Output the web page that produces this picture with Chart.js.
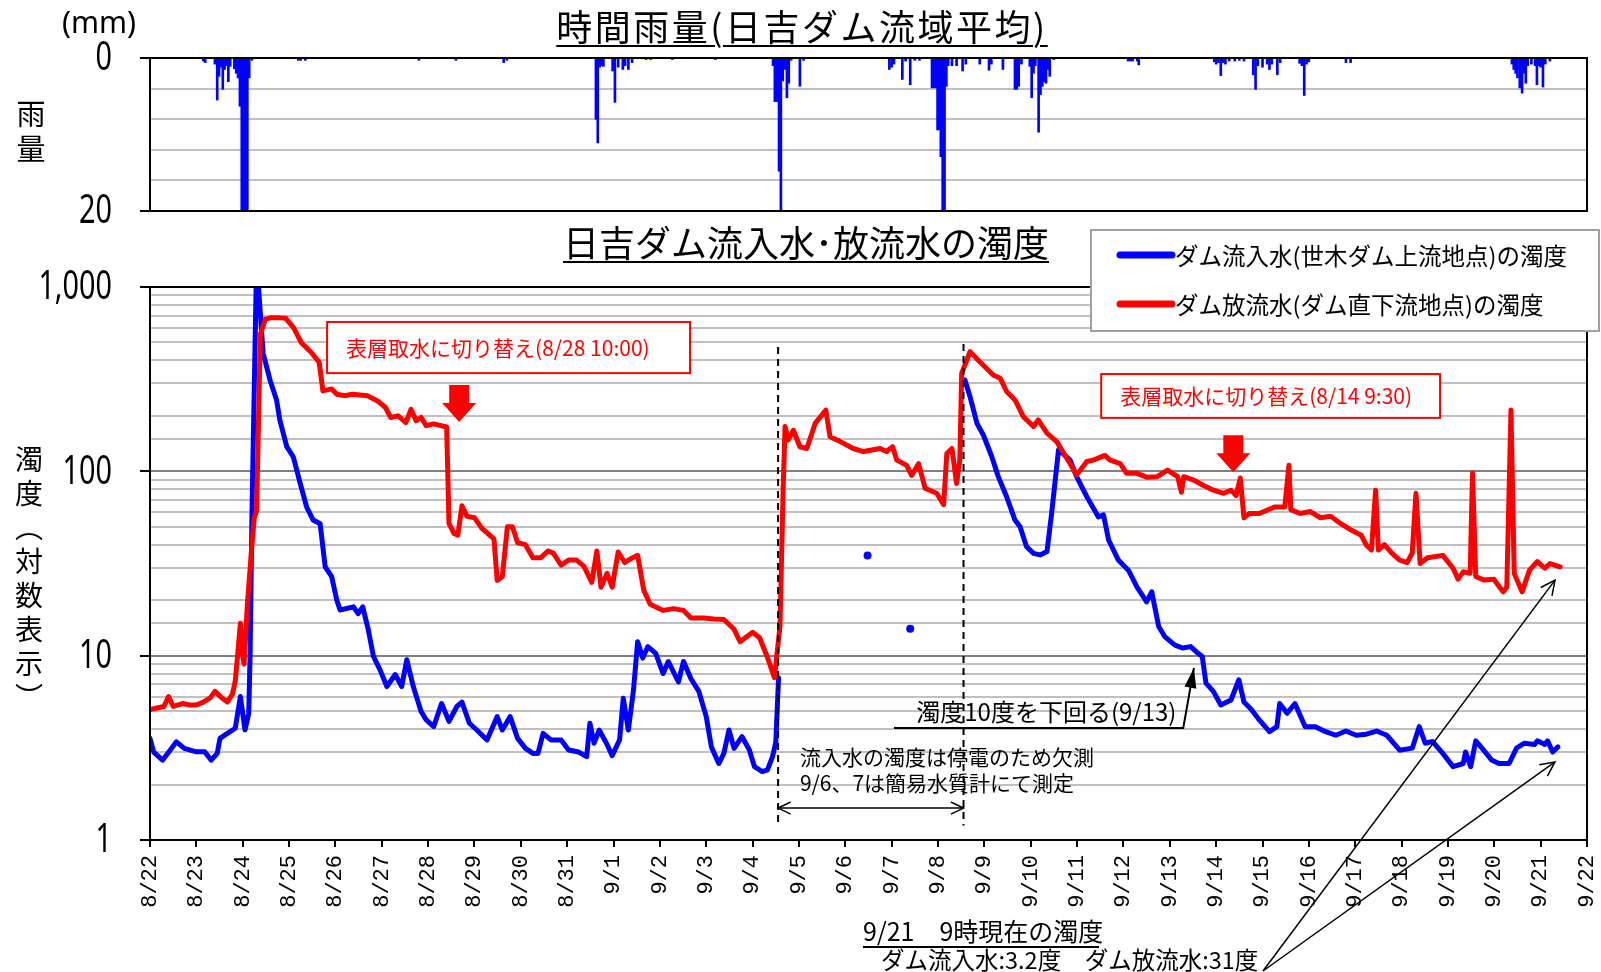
<!DOCTYPE html>
<html lang="ja">
<head>
<meta charset="utf-8">
<title>時間雨量・日吉ダム流入水･放流水の濁度</title>
<script src="https://cdn.jsdelivr.net/npm/chart.js@4.4.1/dist/chart.umd.min.js"></script>
<style>
  html, body { margin: 0; padding: 0; background: #fff; }
  body {
    width: 1601px; height: 972px; position: relative; overflow: hidden;
    font-family: "Noto Sans CJK JP", sans-serif; color: #000;
  }
  canvas { position: absolute; left: 0; }
  #rainCanvas { top: 0; }
  #turbCanvas { top: 220px; }
  .title {
    position: absolute; font-size: 36px; line-height: 1; white-space: nowrap;
    text-decoration: underline; text-decoration-thickness: 2px; text-underline-offset: 4px;
    transform: translateX(-50%);
  }
  .vlabel { position: absolute; writing-mode: vertical-rl; line-height: 1; white-space: nowrap; }
  #unit { position: absolute; left: 62px; top: 7px; font-size: 30px; line-height: 1; font-family: "Noto Sans", sans-serif; }
</style>
</head>
<body>
<canvas id="rainCanvas" width="1601" height="235"></canvas>
<canvas id="turbCanvas" width="1601" height="752"></canvas>
<div class="title" style="left:802px; top:7px; letter-spacing:2.5px;">時間雨量(日吉ダム流域平均)</div>
<div class="title" style="left:806px; top:223px;">日吉ダム流入水･放流水の濁度</div>
<div id="unit">(mm)</div>
<div class="vlabel" style="left:16px; top:99px; font-size:29px; letter-spacing:6px;">雨量</div>
<div class="vlabel" style="left:15px; top:445px; font-size:28px; letter-spacing:6px;">濁度（対数表示）</div>
<script>
// x軸: 8/22 0時からの経過日数
const dateLabels = [
  '8/22', '8/23', '8/24', '8/25', '8/26', '8/27', '8/28', '8/29', '8/30', '8/31',
  '9/1', '9/2', '9/3', '9/4', '9/5', '9/6', '9/7', '9/8', '9/9', '9/10',
  '9/11', '9/12', '9/13', '9/14', '9/15', '9/16', '9/17', '9/18', '9/19', '9/20',
  '9/21', '9/22'
];

// 時間雨量 (mm)
const rainDays = [
  1.15, 1.19, 1.40, 1.45, 1.49, 1.53, 1.57, 1.61, 1.65, 1.69, 1.73, 1.82, 1.86, 1.90, 1.94, 1.98, 2.02, 2.06, 2.10, 2.14, 2.20,
  3.20, 3.25, 3.35, 5.80, 6.60, 7.63, 7.70,
  9.62, 9.66, 9.70, 9.74, 9.78, 9.98, 10.03, 10.10, 10.20, 10.25, 10.32, 10.40, 10.70, 10.80, 11.27, 12.20,
  13.44, 13.48, 13.53, 13.57, 13.61, 13.65, 13.69, 13.74, 13.78, 13.83, 14.02, 14.10,
  15.95, 16.00, 16.05, 16.23, 16.30, 16.40, 16.50, 16.60,
  16.87, 16.91, 16.95, 16.99, 17.03, 17.06, 17.10, 17.14, 17.18, 17.22, 17.30, 17.40, 17.53, 17.60, 17.90,
  18.10, 18.15, 18.40, 18.66, 18.70, 18.74, 18.80, 18.98, 19.02, 19.06, 19.10, 19.17, 19.21, 19.25, 19.29, 19.33, 19.37, 19.41, 19.50,
  21.10, 21.15, 21.20, 21.30, 21.33,
  22.96, 23.00, 23.05, 23.10, 23.15, 23.20, 23.28, 23.40, 23.50, 23.60,
  23.80, 23.85, 23.90, 24.00, 24.10, 24.15, 24.20, 24.32, 24.38,
  24.80, 24.85, 24.90, 24.95, 25.00, 25.80, 25.90,
  29.38, 29.42, 29.46, 29.50, 29.55, 29.60, 29.64, 29.68, 29.72, 29.80, 29.88, 29.92, 29.96, 30.00, 30.05, 30.10, 30.20
];
const rainMm = [
  0.4, 0.6, 0.8, 5.5, 2.4, 1.2, 4.1, 1.5, 1.0, 3.1, 1.1, 1.4, 2.0, 2.6, 6.3, 21, 25, 24, 22, 2.6, 0.3,
  0.3, 0.3, 0.3, 0.3, 0.3, 0.6, 0.3,
  8.0, 11.1, 1.2, 1.0, 1.1, 1.7, 5.8, 1.2, 1.5, 1.0, 1.5, 0.6, 0.2, 0.2, 0.2, 0.2,
  1.0, 5.7, 5.7, 14.8, 21, 3.0, 1.5, 5.2, 3.3, 0.3, 3.7, 0.3,
  1.5, 1.2, 0.8, 2.8, 0.4, 3.5, 0.3, 0.3,
  3.9, 3.9, 3.9, 9.4, 9.4, 12.9, 24, 24, 3.7, 1.0, 1.0, 1.0, 1.7, 0.8, 0.8,
  1.6, 0.8, 1.5, 4.1, 4.1, 3.7, 0.8, 1.1, 5.2, 2.0, 1.0, 9.7, 4.8, 3.7, 3.1, 3.3, 1.5, 2.4, 0.2,
  0.4, 0.4, 0.4, 0.4, 0.9,
  0.5, 0.8, 0.6, 2.3, 0.6, 0.8, 0.4, 0.4, 0.3, 0.4,
  2.2, 4.1, 1.0, 1.2, 0.8, 1.5, 0.8, 2.2, 0.6,
  0.7, 1.0, 4.9, 0.8, 0.5, 0.6, 0.6,
  0.8, 1.5, 2.0, 2.6, 3.9, 4.6, 2.0, 3.3, 1.0, 0.8, 1.0, 3.5, 1.0, 1.2, 3.8, 0.8, 0.4
];

// ダム流入水(世木ダム上流地点)の濁度 (null = 停電による欠測)
const inflowDays = [
  0.00, 0.08, 0.27, 0.41, 0.57, 0.74, 1.00, 1.18, 1.32, 1.45, 1.51, 1.67, 1.84, 1.95, 2.05, 2.13, 2.16, 2.20, 2.30,
  2.44, 2.59, 2.73, 2.80, 2.95, 3.09, 3.24, 3.38, 3.52, 3.67, 3.78, 3.92, 4.03, 4.10, 4.39, 4.49, 4.59, 4.71, 4.82,
  4.96, 5.11, 5.29, 5.43, 5.54, 5.68, 5.85, 5.96, 6.12, 6.29, 6.45, 6.62, 6.73, 6.89, 7.05, 7.27, 7.38, 7.49, 7.60,
  7.77, 7.93, 8.10, 8.26, 8.37, 8.48, 8.65, 8.87, 9.03, 9.25, 9.42, 9.49, 9.58, 9.69, 9.86, 9.97, 10.13, 10.21,
  10.32, 10.43, 10.52, 10.63, 10.74, 10.91, 11.07, 11.18, 11.40, 11.51, 11.67, 11.84, 12.00, 12.11, 12.27, 12.38,
  12.49, 12.60, 12.77, 12.93, 13.04, 13.21, 13.32, 13.43, 13.50, 13.56,
  15.00,
  17.58, 17.69, 17.84, 17.98, 18.16, 18.30, 18.48, 18.66, 18.77, 18.91, 19.06, 19.20, 19.35, 19.45, 19.60, 19.85,
  19.99, 20.21, 20.46, 20.57, 20.68, 20.89, 21.11, 21.29, 21.50, 21.61, 21.76, 21.89, 22.11, 22.28, 22.45, 22.61,
  22.70, 22.78, 22.94, 23.10, 23.32, 23.49, 23.60, 23.76, 23.93, 24.15, 24.31, 24.37, 24.53, 24.70, 24.92, 25.14,
  25.36, 25.58, 25.80, 26.02, 26.24, 26.46, 26.68, 26.96, 27.23, 27.38, 27.51, 27.67, 27.89, 28.11, 28.33, 28.38,
  28.49, 28.60, 28.77, 28.94, 29.10, 29.32, 29.48, 29.65, 29.87, 29.93, 30.09, 30.15, 30.26, 30.37
];
const inflowTurb = [
  3.56, 3.0, 2.71, 3.01, 3.41, 3.14, 3.01, 3.01, 2.71, 2.95, 3.56, 3.79, 4.04, 6.0, 3.96, 4.86, 10.3, 60, 1400,
  437, 312, 244, 190, 136, 120, 86, 64, 54.4, 52, 30.3, 26.8, 20, 17.7, 18.4, 16.9, 18.4, 13.8, 9.9,
  8.4, 6.8, 7.9, 6.8, 9.5, 6.8, 4.97, 4.48, 4.12, 5.5, 4.4, 5.3, 5.6, 4.3, 3.95, 3.49, 4.04, 4.67, 3.95,
  4.67, 3.56, 3.14, 2.95, 2.95, 3.79, 3.49, 3.49, 3.08, 3.0, 2.83, 4.3, 3.35, 3.95, 3.3, 2.87, 3.49, 5.87,
  3.95, 6.5, 11.9, 9.7, 11.2, 10.3, 8.0, 9.3, 7.2, 9.3, 7.5, 6.4, 4.67, 3.2, 2.6, 2.95,
  3.95, 3.14, 3.64, 3.08, 2.5, 2.35, 2.4, 2.83, 3.4, 7.6,
  null,
  313, 254, 182, 157, 120, 93.6, 72.8, 54.4, 50, 39, 35.9, 35.2, 36.7, 59, 131, 115,
  93.6, 72.8, 56.6, 58, 42.4, 33, 29, 23.6, 19.6, 22.2, 14.4, 12.7, 11.4, 11, 11.2, 10.3,
  9.9, 7.1, 6.4, 5.4, 5.75, 7.4, 5.6, 5.1, 4.48, 3.87, 4.12, 5.5, 4.87, 5.5, 4.12, 4.12,
  3.87, 3.7, 3.9, 3.7, 3.75, 3.9, 3.7, 3.07, 3.15, 4.12, 3.35, 3.42, 2.95, 2.5, 2.6, 3.0,
  2.5, 3.45, 3.07, 2.72, 2.6, 2.6, 3.15, 3.35, 3.3, 3.45, 3.3, 3.45, 3.0, 3.2
];

// 9/6、9/7 簡易水質計による流入水の濁度
const simpleMeterDays = [15.48, 16.40];
const simpleMeterTurb = [35, 14];

// ダム放流水(ダム直下流地点)の濁度
const outflowDays = [
  0.00, 0.15, 0.30, 0.40, 0.50, 0.70, 0.85, 1.00, 1.15, 1.30, 1.40, 1.55, 1.67, 1.78, 1.84, 1.90, 1.95, 2.00, 2.03,
  2.10, 2.20, 2.25, 2.30, 2.38, 2.49, 2.60, 2.80, 2.93, 3.10, 3.26, 3.48, 3.65, 3.73, 3.92, 4.03, 4.20, 4.36, 4.69,
  4.91, 5.08, 5.19, 5.35, 5.52, 5.63, 5.74, 5.85, 5.96, 6.12, 6.40, 6.45, 6.56, 6.64, 6.73, 6.84, 7.00, 7.16, 7.33,
  7.42, 7.49, 7.60, 7.71, 7.82, 7.93, 8.10, 8.26, 8.43, 8.59, 8.70, 8.87, 9.03, 9.20, 9.36, 9.53, 9.64, 9.73, 9.86,
  9.97, 10.10, 10.24, 10.41, 10.52, 10.65, 10.79, 11.07, 11.29, 11.51, 11.67, 11.95, 12.16, 12.38, 12.60, 12.73,
  13.00, 13.15, 13.32, 13.47, 13.59, 13.66, 13.70, 13.77, 13.88, 14.02, 14.17, 14.35, 14.58, 14.67, 14.89, 15.17,
  15.39, 15.75, 15.89, 16.02, 16.11, 16.32, 16.43, 16.58, 16.72, 16.97, 17.12, 17.19, 17.30, 17.40, 17.47, 17.51,
  17.69, 17.90, 18.19, 18.34, 18.48, 18.66, 18.84, 19.06, 19.16, 19.35, 19.56, 19.85, 19.99, 20.21, 20.35, 20.60,
  20.71, 20.93, 21.07, 21.29, 21.50, 21.73, 21.95, 22.17, 22.25, 22.30, 22.50, 22.72, 22.94, 23.16, 23.32, 23.43,
  23.52, 23.60, 23.71, 23.93, 24.26, 24.48, 24.57, 24.61, 24.81, 25.03, 25.25, 25.47, 25.69, 25.91, 26.13, 26.24,
  26.35, 26.44, 26.50, 26.63, 26.79, 26.96, 27.12, 27.23, 27.31, 27.40, 27.56, 27.89, 28.11, 28.22, 28.33, 28.48,
  28.53, 28.60, 28.77, 28.99, 29.19, 29.27, 29.36, 29.43, 29.60, 29.76, 29.93, 30.09, 30.20, 30.42
];
const outflowTurb = [
  5.1, 5.2, 5.3, 6.0, 5.3, 5.5, 5.4, 5.4, 5.6, 5.9, 6.4, 5.9, 5.6, 6.2, 7.3, 10.7, 15, 10, 9.0,
  19, 40, 56, 61, 555, 670, 680, 680, 676, 600, 500, 441, 390, 273, 280, 262, 257, 262, 257,
  241, 222, 196, 200, 184, 217, 188, 196, 177, 181, 174, 52, 46, 45, 65, 57, 56, 49, 45,
  43, 25.6, 26.8, 50, 50, 41, 40, 34, 34, 37, 36, 31, 33, 33, 30.6, 25, 37, 23.5, 28,
  23.5, 36.5, 32, 34, 35, 22.7, 19, 17.6, 18, 17.6, 16, 16, 15.8, 15.7, 13.9, 11.9,
  13.4, 12.5, 9.8, 7.6, 14.4, 82, 175, 148, 167, 136, 133, 182, 215, 154, 145, 133,
  128, 133, 128, 136, 115, 108, 95, 110, 81, 76, 66, 125, 133, 86, 115, 340,
  446, 393, 333, 320, 271, 244, 198, 175, 190, 161, 145, 110, 95.5, 113, 115, 122,
  115, 110, 97.5, 97.5, 93, 93.5, 101.6, 93.5, 77, 93.5, 90, 84, 79, 76, 79, 74,
  92, 56, 59, 59, 64, 64, 108, 62, 59, 60.5, 56, 57, 52, 48, 45, 39.8,
  37.4, 79, 37.4, 40, 36, 33, 32, 36, 76, 31.6, 34, 35, 29.8, 26, 28.5, 28,
  97.5, 26.9, 25.7, 26, 22.2, 23.5, 215, 27.9, 22.2, 29.1, 32.4, 29.8, 31.6, 30.3
];

// 目盛ラベル
const rainTickValues = [0, 20];
const rainTickLabels = ['0', '20'];
const turbTickValues = [1, 10, 100, 1000];
const turbTickLabels = ['1', '10', '100', '1,000'];

const toPoints = (xs, ys) => xs.map((x, i) => ({ x, y: ys[i] }));
const tickIndex = (vals, v) => vals.findIndex((t) => Math.abs(t - v) < 1e-6);
const jpFont = '"Noto Sans CJK JP", sans-serif';

// グラフ枠
const framePlugin = {
  id: 'frame',
  afterDraw(chart) {
    const { ctx, chartArea: a } = chart;
    ctx.save();
    ctx.strokeStyle = '#000';
    ctx.lineWidth = 2;
    ctx.strokeRect(a.left, a.top, a.right - a.left, a.bottom - a.top);
    ctx.restore();
  }
};

// 縦軸の目盛ラベル (縦長の字形にするため横方向に縮めて描く)
function narrowTicks(values, labels) {
  return {
    id: 'narrowTicks',
    afterDraw(chart) {
      const { ctx, scales: { y }, chartArea } = chart;
      ctx.save();
      ctx.fillStyle = '#000';
      ctx.font = '40px "Noto Sans", sans-serif';
      ctx.textAlign = 'right';
      ctx.textBaseline = 'middle';
      values.forEach((v, i) => {
        ctx.save();
        ctx.translate(chartArea.left - 38, y.getPixelForValue(v) + 1);
        ctx.scale(0.72, 1);
        ctx.fillText(labels[i], 0, 0);
        ctx.restore();
      });
      ctx.restore();
    }
  };
}

function openHead(ctx, x0, y0, x1, y1, len) {
  const ang = Math.atan2(y1 - y0, x1 - x0);
  ctx.beginPath();
  ctx.moveTo(x1 - len * Math.cos(ang - 0.45), y1 - len * Math.sin(ang - 0.45));
  ctx.lineTo(x1, y1);
  ctx.lineTo(x1 - len * Math.cos(ang + 0.45), y1 - len * Math.sin(ang + 0.45));
  ctx.stroke();
}

function filledHead(ctx, x0, y0, x1, y1, len, half) {
  const ang = Math.atan2(y1 - y0, x1 - x0);
  const bx = x1 - len * Math.cos(ang), by = y1 - len * Math.sin(ang);
  ctx.beginPath();
  ctx.moveTo(x1, y1);
  ctx.lineTo(bx + half * Math.sin(ang), by - half * Math.cos(ang));
  ctx.lineTo(bx - half * Math.sin(ang), by + half * Math.cos(ang));
  ctx.closePath();
  ctx.fill();
}

// 注記 (位置は日数・濁度の値で指定)
const switchNotes = [
  { text: '表層取水に切り替え(8/28 10:00)', box: [3.82, 646, 11.65, 341], arrowDay: 6.67, arrowTip: 185 },
  { text: '表層取水に切り替え(8/14 9:30)', box: [20.52, 337, 27.83, 195], arrowDay: 23.37, arrowTip: 99 }
];
const outageStart = 13.55;
const outageEnd = 17.55;

const notesPlugin = {
  id: 'notes',
  afterDraw(chart) {
    const { ctx, scales: { x, y } } = chart;
    const px = (d) => x.getPixelForValue(d);
    const py = (v) => y.getPixelForValue(v);
    ctx.save();

    // 表層取水の切り替え
    switchNotes.forEach((n) => {
      const [d0, v0, d1, v1] = n.box;
      const l = px(d0), t = py(v0), r = px(d1), b = py(v1);
      ctx.fillStyle = '#fff';
      ctx.fillRect(l, t, r - l, b - t);
      ctx.strokeStyle = '#ff0000';
      ctx.lineWidth = 2;
      ctx.strokeRect(l, t, r - l, b - t);
      ctx.fillStyle = '#ff0000';
      ctx.font = '21px ' + jpFont;
      ctx.textBaseline = 'middle';
      ctx.textAlign = 'left';
      ctx.fillText(n.text, l + 19, (t + b) / 2);

      const cx = px(n.arrowDay), tip = py(n.arrowTip);
      ctx.beginPath();
      ctx.moveTo(cx - 10, tip - 37);
      ctx.lineTo(cx + 10, tip - 37);
      ctx.lineTo(cx + 10, tip - 19);
      ctx.lineTo(cx + 17, tip - 19);
      ctx.lineTo(cx, tip);
      ctx.lineTo(cx - 17, tip - 19);
      ctx.lineTo(cx - 10, tip - 19);
      ctx.closePath();
      ctx.fill();
    });

    // 欠測期間
    ctx.strokeStyle = '#000';
    ctx.lineWidth = 2;
    ctx.setLineDash([7, 5]);
    [[outageStart, 472], [outageEnd, 490]].forEach(([d, top]) => {
      ctx.beginPath();
      ctx.moveTo(px(d), py(top));
      ctx.lineTo(px(d), py(1.2));
      ctx.stroke();
    });
    ctx.setLineDash([]);
    ctx.lineWidth = 1.5;
    const ay = py(1.49);
    ctx.beginPath();
    ctx.moveTo(px(outageStart), ay);
    ctx.lineTo(px(outageEnd), ay);
    ctx.stroke();
    openHead(ctx, px(outageEnd), ay, px(outageStart), ay, 14);
    openHead(ctx, px(outageStart), ay, px(outageEnd), ay, 14);

    ctx.fillStyle = '#000';
    ctx.font = '21px ' + jpFont;
    ctx.textAlign = 'left';
    ctx.textBaseline = 'middle';
    ctx.fillText('流入水の濁度は停電のため欠測', px(14.02), py(2.82));
    ctx.fillText('9/6、7は簡易水質計にて測定', px(14.02), py(2.04));

    // 濁度10度を下回る
    ctx.font = '24px ' + jpFont;
    ctx.fillText('濁度10度を下回る(9/13)', px(16.53), py(4.95));
    ctx.lineWidth = 2;
    const ux0 = px(16.05), ux1 = px(22.29), uy = py(4.05);
    const tx = px(22.52), ty = py(8.58);
    ctx.beginPath();
    ctx.moveTo(ux0, uy);
    ctx.lineTo(ux1, uy);
    ctx.lineTo(tx, ty);
    ctx.stroke();
    filledHead(ctx, ux1, uy, tx, ty, 20, 6);

    // 9/21 9時現在の濁度
    const top = chart.canvas.offsetTop;
    ctx.font = '25px ' + jpFont;
    ctx.fillText('9/21　9時現在の濁度', 863, 931 - top);
    ctx.fillRect(863, 946 - top, 236, 2);
    ctx.font = '23.5px ' + jpFont;
    ctx.fillText('ダム流入水:3.2度　ダム放流水:31度', 881, 960 - top);
    ctx.lineWidth = 1.5;
    const ox = 1263, oy = 971 - top;
    [[30.31, 25.7], [30.31, 2.65]].forEach(([d, v]) => {
      ctx.beginPath();
      ctx.moveTo(ox, oy);
      ctx.lineTo(px(d), py(v));
      ctx.stroke();
      openHead(ctx, ox, oy, px(d), py(v), 16);
    });
    ctx.restore();
  }
};

// 凡例 (グラフ右上に重ねて表示)
const legendPlugin = {
  id: 'boxLegend',
  afterDraw(chart) {
    const { ctx } = chart;
    const top = chart.canvas.offsetTop;
    const l = 1091, t = 230 - top, w = 508, h = 101;
    ctx.save();
    ctx.fillStyle = '#fff';
    ctx.fillRect(l, t, w, h);
    ctx.strokeStyle = '#a0a0a0';
    ctx.lineWidth = 2;
    ctx.strokeRect(l, t, w, h);
    [1, 0].forEach((di, row) => {
      const ds = chart.data.datasets[di];
      const yy = t + 25 + row * 49;
      ctx.strokeStyle = ds.borderColor;
      ctx.lineWidth = 7;
      ctx.lineCap = 'round';
      ctx.beginPath();
      ctx.moveTo(l + 29, yy);
      ctx.lineTo(l + 81, yy);
      ctx.stroke();
      ctx.fillStyle = '#000';
      ctx.font = '23.5px ' + jpFont;
      ctx.textAlign = 'left';
      ctx.textBaseline = 'middle';
      ctx.fillText(ds.label, l + 84, yy + 1);
    });
    ctx.restore();
  }
};

// 時間雨量
new Chart(document.getElementById('rainCanvas'), {
  type: 'bar',
  data: {
    datasets: [{
      label: '時間雨量',
      data: toPoints(rainDays, rainMm),
      backgroundColor: '#0000ff',
      barThickness: 2,
      grouped: false
    }]
  },
  options: {
    responsive: false,
    animation: false,
    layout: { padding: { top: 58, right: 14, bottom: 24, left: 0 } },
    plugins: { legend: { display: false }, tooltip: { enabled: false } },
    scales: {
      x: { type: 'linear', min: 0, max: 31, offset: false, display: false },
      y: {
        reverse: true, min: 0, max: 20,
        afterFit: (s) => { s.width = 150; s.paddingTop = 0; s.paddingBottom = 0; },
        border: { display: false },
        grid: {
          color: '#c0c0c0', lineWidth: 2, tickLength: 10,
          tickColor: (c) => (tickIndex(rainTickValues, c.tick.value) >= 0 ? '#000' : 'rgba(0,0,0,0)')
        },
        ticks: { stepSize: 4, display: false }
      }
    }
  },
  plugins: [framePlugin, narrowTicks(rainTickValues, rainTickLabels)]
});

// 濁度
new Chart(document.getElementById('turbCanvas'), {
  type: 'line',
  data: {
    datasets: [
      {
        label: 'ダム放流水(ダム直下流地点)の濁度',
        data: toPoints(outflowDays, outflowTurb),
        borderColor: '#ff0000', borderWidth: 5, pointRadius: 0, tension: 0,
        borderJoinStyle: 'round', borderCapStyle: 'round', order: 1
      },
      {
        label: 'ダム流入水(世木ダム上流地点)の濁度',
        data: toPoints(inflowDays, inflowTurb),
        borderColor: '#0000ff', borderWidth: 5, pointRadius: 0, tension: 0, spanGaps: false,
        borderJoinStyle: 'round', borderCapStyle: 'round', order: 2
      },
      {
        label: '簡易水質計',
        data: toPoints(simpleMeterDays, simpleMeterTurb),
        showLine: false, pointRadius: 4, pointBorderWidth: 0,
        pointBackgroundColor: '#0000ff', borderColor: '#0000ff', order: 3
      }
    ]
  },
  options: {
    responsive: false,
    animation: false,
    layout: { padding: { top: 67, right: 14, bottom: 0, left: 0 } },
    plugins: { legend: { display: false }, tooltip: { enabled: false } },
    scales: {
      x: {
        type: 'linear', min: 0, max: 31, offset: false,
        afterFit: (s) => { s.height = 132; s.paddingLeft = 0; s.paddingRight = 0; },
        border: { display: false },
        grid: { drawOnChartArea: false, drawTicks: true, tickLength: 7, color: '#000', lineWidth: 2 },
        ticks: {
          stepSize: 1, autoSkip: false, maxRotation: 90, minRotation: 90, padding: 8, color: '#000',
          font: { family: '"Liberation Mono", monospace', size: 22 },
          callback: (v) => dateLabels[v] ?? ''
        }
      },
      y: {
        type: 'logarithmic', min: 1, max: 1000,
        afterFit: (s) => { s.width = 150; s.paddingTop = 0; s.paddingBottom = 0; },
        border: { display: false },
        grid: {
          lineWidth: 2, tickLength: 10,
          color: (c) => (tickIndex(turbTickValues, c.tick.value) >= 0 ? '#808080' : '#c0c0c0'),
          tickColor: (c) => (tickIndex(turbTickValues, c.tick.value) >= 0 ? '#000' : 'rgba(0,0,0,0)')
        },
        ticks: { display: false, autoSkip: false }
      }
    }
  },
  plugins: [framePlugin, narrowTicks(turbTickValues, turbTickLabels), notesPlugin, legendPlugin]
});
</script>
</body>
</html>
